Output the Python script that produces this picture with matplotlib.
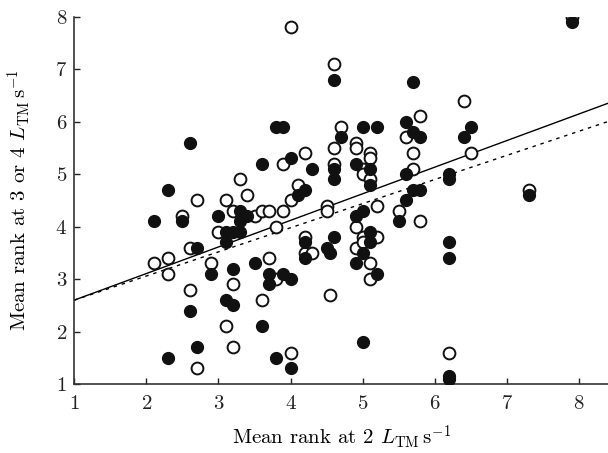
import numpy as np
import matplotlib
matplotlib.use('Agg')
import matplotlib.pyplot as plt

plt.rcParams['font.family'] = 'serif'
plt.rcParams['font.serif'] = ['cmr10', 'DejaVu Serif']
plt.rcParams['mathtext.fontset'] = 'cm'
plt.rcParams['axes.formatter.use_mathtext'] = True

# filled circles (x = rank at 2 L/s, y = rank at 3 or 4 L/s)
filled_x = [2.1, 2.3, 2.3, 2.5, 2.6, 2.6, 2.7, 2.7, 2.9, 3.0, 3.1, 3.1, 3.1,
            3.2, 3.2, 3.2, 3.3, 3.3, 3.3, 3.4, 3.5, 3.6, 3.6, 3.7, 3.7, 3.8,
            3.8, 3.9, 3.9, 4.0, 4.0, 4.0, 4.1, 4.2, 4.2, 4.2, 4.3, 4.5, 4.55,
            4.6, 4.6, 4.6, 4.6, 4.7, 4.9, 4.9, 4.9, 5.0, 5.0, 5.0, 5.0, 5.1,
            5.1, 5.1, 5.1, 5.2, 5.2, 5.5, 5.6, 5.6, 5.6, 5.7, 5.7, 5.7, 5.8,
            5.8, 6.2, 6.2, 6.2, 6.2, 6.2, 6.2, 6.4, 6.5, 7.3, 7.9]
filled_y = [4.1, 4.7, 1.5, 4.1, 5.6, 2.4, 3.6, 1.7, 3.1, 4.2, 3.9, 3.7, 2.6,
            3.9, 3.2, 2.5, 3.9, 4.3, 4.1, 4.2, 3.3, 5.2, 2.1, 3.1, 2.9, 5.9,
            1.5, 5.9, 3.1, 5.3, 3.0, 1.3, 4.6, 4.7, 3.7, 3.4, 5.1, 3.6, 3.5,
            6.8, 5.1, 4.9, 3.8, 5.7, 5.2, 4.2, 3.3, 5.9, 4.3, 3.5, 1.8, 5.1,
            4.8, 3.9, 3.7, 3.1, 5.9, 4.1, 6.0, 5.0, 4.5, 6.75, 5.8, 4.7, 5.7,
            4.7, 5.0, 4.9, 3.7, 3.4, 1.15, 1.1, 5.7, 5.9, 4.6, 7.9]

# open circles
open_x = [2.1, 2.3, 2.3, 2.5, 2.6, 2.6, 2.7, 2.7, 2.9, 3.0, 3.1, 3.1, 3.2,
          3.2, 3.2, 3.3, 3.4, 3.5, 3.6, 3.6, 3.7, 3.7, 3.8, 3.8, 3.9, 3.9,
          4.0, 4.0, 4.0, 4.1, 4.2, 4.2, 4.2, 4.3, 4.5, 4.5, 4.55, 4.6, 4.6,
          4.6, 4.7, 4.9, 4.9, 4.9, 4.9, 5.0, 5.0, 5.0, 5.0, 5.1, 5.1, 5.1,
          5.1, 5.1, 5.2, 5.2, 5.5, 5.6, 5.7, 5.7, 5.8, 5.8, 6.2, 6.4, 6.5,
          7.3, 7.9]
open_y = [3.3, 3.4, 3.1, 4.2, 3.6, 2.8, 4.5, 1.3, 3.3, 3.9, 4.5, 2.1, 4.3,
          2.9, 1.7, 4.9, 4.6, 4.2, 4.3, 2.6, 4.3, 3.4, 4.0, 3.0, 5.2, 4.3,
          7.8, 4.5, 1.6, 4.8, 5.4, 3.8, 3.5, 3.5, 4.4, 4.3, 2.7, 7.1, 5.5,
          5.2, 5.9, 5.6, 5.5, 4.0, 3.6, 5.1, 5.0, 3.8, 3.7, 5.4, 5.3, 4.9,
          3.3, 3.0, 4.4, 3.8, 4.3, 5.7, 5.4, 5.1, 6.1, 4.1, 1.6, 6.4, 5.4,
          4.7, 8.0]

# fitted lines (slope, intercept)
fit_solid = (0.507, 2.093)
fit_dotted = (0.46, 2.14)

fig = plt.figure(figsize=(6.08, 4.53), dpi=100)
ax = fig.add_axes([0.122, 0.152, 0.878, 0.811])

ax.plot(open_x, open_y, 'o', mfc='white', mec='#111111', mew=1.4, ms=8.5,
        linestyle='none', zorder=3)
ax.plot(filled_x, filled_y, 'o', mfc='#111111', mec='#111111', mew=1.0,
        ms=8.5, linestyle='none', zorder=4)

xs = np.array([1.0, 8.4])
ax.plot(xs, fit_solid[0] * xs + fit_solid[1], '-', color='black', lw=1.0,
        zorder=2)
ax.plot(xs, fit_dotted[0] * xs + fit_dotted[1], color='black', lw=1.0,
        linestyle=(0, (2.5, 3.5)), zorder=2)

ax.set_xlim(1, 8.4)
ax.set_ylim(1, 8)
ax.set_xticks(range(1, 9))
ax.set_yticks(range(1, 9))
ax.spines['top'].set_visible(False)
ax.spines['right'].set_visible(False)
for s in ('left', 'bottom'):
    ax.spines[s].set_linewidth(1.2)
    ax.spines[s].set_color('#333333')
ax.tick_params(direction='in', length=4, width=1, labelsize=15,
               colors='#222222')
ax.tick_params(axis='x', pad=8)
ax.tick_params(axis='y', pad=5)

ax.set_xlabel(r'Mean rank at 2 $L_{\mathrm{TM}}\,\mathrm{s}^{-1}$',
              fontsize=15, labelpad=7)
ax.set_ylabel(r'Mean rank at 3 or 4 $L_{\mathrm{TM}}\,\mathrm{s}^{-1}$',
              fontsize=15, labelpad=16)

fig.savefig('out.png', dpi=100)
